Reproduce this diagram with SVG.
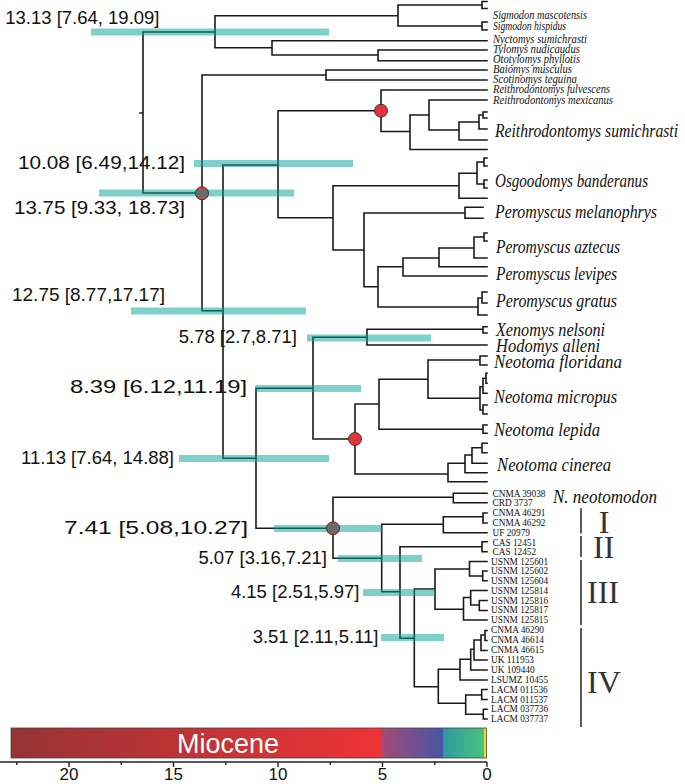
<svg xmlns="http://www.w3.org/2000/svg" width="685" height="784" viewBox="0 0 685 784">
<style>
.tree{fill:none;stroke:#1a1a1a;stroke-width:1.6;stroke-linecap:square}
.bar{fill:#00a195;fill-opacity:0.5}
.age{font-family:"Liberation Sans",Arial,sans-serif;font-size:18.5px;fill:#111;text-anchor:end}
.sp{font-family:"Liberation Serif","Times New Roman",serif;font-style:italic;font-size:11.5px;fill:#111}
.big{font-family:"Liberation Serif","Times New Roman",serif;font-style:italic;font-size:19px;fill:#111}
.spec{font-family:"Liberation Serif","Times New Roman",serif;font-size:9.3px;fill:#111}
.rom{font-family:"Liberation Serif","Times New Roman",serif;font-size:32px;fill:#333;text-anchor:middle}
.red{fill:#e0363a;stroke:#3a3a3a;stroke-width:1}
.tick{font-family:"Liberation Sans",Arial,sans-serif;font-size:17px;fill:#111;text-anchor:middle}
</style>
<defs>
<clipPath id="cc"><circle cx="0" cy="0" r="6.5"/></clipPath>
<linearGradient id="gMio" x1="0" x2="1" y1="0" y2="0"><stop offset="0" stop-color="#963334"/><stop offset="1" stop-color="#ee3338"/></linearGradient>
<linearGradient id="gPli" x1="0" x2="1" y1="0" y2="0"><stop offset="0" stop-color="#a44a74"/><stop offset="1" stop-color="#4556a6"/></linearGradient>
<linearGradient id="gPle" x1="0" x2="1" y1="0" y2="0"><stop offset="0" stop-color="#2e999e"/><stop offset="1" stop-color="#4ac47e"/></linearGradient>
</defs>
<rect width="685" height="784" fill="#fff"/>

<g id="connectors" class="tree">
<path d="M140,113H143 M143,32V193 M143,32H215 M143,193H202
M215,15.7V47.7 M215,15.7H398 M215,47.7H272
M398,5V26 M398,5H482 M482,1.5V8.5 M482,1.5H487 M482,8.5H487 M398,26H482 M482,22V30 M482,22H487 M482,30H487
M272,40.7V55 M272,40.7H487 M272,55H378 M378,50V60.7 M378,50H487 M378,60.7H487
M202,75V310.7 M202,75H326 M202,310.7H223 M326,70V80 M326,70H487 M326,80H487
M223,165V458.3 M223,165H278 M223,458.3H256
M278,110.7V217.7 M278,110.7H381 M278,217.7H333
M381,90V131.5 M381,90H487 M381,131.5H410
M410,115V149.5 M410,115H429 M410,149.5H487
M429,100V130 M429,100H487 M429,130H459
M459,122V140 M459,122H479 M459,140H487
M479,115V129 M479,115H483 M483,112V118 M483,112H487 M483,118H487 M479,129H487
M333,185.7V250 M333,185.7H459 M333,250H364
M459,173.3V198.3 M459,173.3H477 M459,198.3H487
M477,162V184 M477,162H484 M484,158V166 M484,158H487 M484,166H487 M477,184H484 M484,180V188 M484,180H487 M484,188H487
M364,213V286.7 M364,213H465 M364,286.7H378
M465,207.3V218.3 M465,207.3H483 M465,218.3H483
M378,266.7V307 M378,266.7H403 M378,307H478
M403,258V276 M403,258H439 M403,276H487
M439,248V266.7 M439,248H474 M439,266.7H487
M474,237V258 M474,237H484 M484,233V241 M484,233H487 M484,241H487 M474,258H487
M478,298V315 M478,298H482 M482,292V303 M482,292H487 M482,303H487 M478,315H487
M256,388.3V528.3 M256,388.3H313 M256,528.3H333
M313,337.3V439 M313,337.3H367 M313,439H355
M367,329.3V345 M367,329.3H483 M483,326.7V333 M483,326.7H487 M483,333H487 M367,345H487
M355,404V474 M355,404H379 M355,474H448
M379,379.3V429.3 M379,379.3H428 M379,429.3H483 M483,425V433.3 M483,425H487 M483,433.3H487
M428,360V398.3 M428,360H480 M480,356V365 M480,356H487 M480,365H487 M428,398.3H480
M480,386.7V410 M480,386.7H483 M483,378.3V393.3 M483,378.3H486 M486,373.3V383.3 M486,373.3H487 M486,383.3H487 M483,393.3H487 M480,410H483 M483,405V414 M483,405H487 M483,414H487
M448,463.3V481.7 M448,463.3H465 M448,481.7H487
M465,455V472.7 M465,455H472 M465,472.7H487
M472,447.7V463.3 M472,447.7H482 M482,443.3V452.7 M482,443.3H487 M482,452.7H487 M472,463.3H487
M333,497.3V558.3 M333,497.3H453.3 M333,558.3H381.7
M453.3,493.3V502.7 M453.3,493.3H487 M453.3,502.7H487
M381.7,524.3V591.7 M381.7,524.3H443.3 M381.7,591.7H400
M443.3,516.7V532.7 M443.3,516.7H483 M483,513V523 M483,513H487 M483,523H487 M443.3,532.7H487
M400,546.7V638.3 M400,546.7H482 M482,541.7V551.7 M482,541.7H487 M482,551.7H487 M400,638.3H414.3
M414.3,589V686.7 M414.3,589H435 M414.3,686.7H438.3
M435,569V609.3 M435,569H469.5 M435,609.3H463.5
M469.5,561.5V576 M469.5,561.5H487 M469.5,576H482.7 M482.7,571V580.7 M482.7,571H487 M482.7,580.7H487
M463.5,597.5V620 M463.5,597.5H470.7 M463.5,620H487
M470.7,590.5V605 M470.7,590.5H487 M470.7,605H479.3 M479.3,600.5V610.5 M479.3,600.5H487 M479.3,610.5H487
M438.3,669.3V703.3 M438.3,669.3H460 M438.3,703.3H465.7
M460,659.3V680 M460,659.3H470.7 M460,680H487
M470.7,649.3V670 M470.7,649.3H474 M470.7,670H487
M474,640V660 M474,640H481 M474,660H487
M481,635V650.5 M481,635H485 M485,630.5V640.5 M485,630.5H487 M485,640.5H487 M481,650.5H487
M465.7,695V714.3 M465.7,695H481.7 M481.7,689.5V699.5 M481.7,689.5H487 M481.7,699.5H487 M465.7,714.3H483.3 M483.3,709.3V719 M483.3,709.3H487 M483.3,719H487"/>
</g>

<g id="age-13.13"><rect class="bar" x="91" y="28.5" width="238" height="7"/><text class="age" x="159.5" y="23.5">13.13 [7.64, 19.09]</text></g>
<g id="age-10.08"><rect class="bar" x="194" y="160" width="159" height="7"/><text class="age" x="185" y="169" textLength="167" lengthAdjust="spacingAndGlyphs">10.08 [6.49,14.12]</text></g>
<g id="age-13.75"><rect class="bar" x="99" y="189.5" width="195" height="7"/><text class="age" x="185" y="214" textLength="171" lengthAdjust="spacingAndGlyphs">13.75 [9.33, 18.73]</text></g>
<g id="age-12.75"><rect class="bar" x="131" y="307.5" width="175" height="7"/><text class="age" x="165" y="301" textLength="153" lengthAdjust="spacingAndGlyphs">12.75 [8.77,17.17]</text></g>
<g id="age-5.78"><rect class="bar" x="307" y="334.5" width="124" height="7"/><text class="age" x="297" y="343">5.78 [2.7,8.71]</text></g>
<g id="age-8.39"><rect class="bar" x="255" y="385" width="106" height="7"/><text class="age" x="247" y="393" textLength="177" lengthAdjust="spacingAndGlyphs">8.39 [6.12,11.19]</text></g>
<g id="age-11.13"><rect class="bar" x="179" y="455" width="150" height="7"/><text class="age" x="174" y="463.5">11.13 [7.64, 14.88]</text></g>
<g id="age-7.41"><rect class="bar" x="274" y="525" width="108" height="7"/><text class="age" x="248" y="533.5" textLength="184" lengthAdjust="spacingAndGlyphs">7.41 [5.08,10.27]</text></g>
<g id="age-5.07"><rect class="bar" x="338" y="555" width="84" height="7"/><text class="age" x="327" y="563.5">5.07 [3.16,7.21]</text></g>
<g id="age-4.15"><rect class="bar" x="363" y="589" width="72" height="7"/><text class="age" x="359.5" y="598">4.15 [2.51,5.97]</text></g>
<g id="age-3.51"><rect class="bar" x="381" y="634" width="63" height="7"/><text class="age" x="378.5" y="642.5">3.51 [2.11,5.11]</text></g>

<g id="node-red-1"><circle class="red" cx="381" cy="110.7" r="6.5"/></g>
<g id="node-red-2"><circle class="red" cx="355" cy="439" r="6.5"/></g>
<g id="node-gray-1" transform="translate(202,193.3)"><circle r="6.5" fill="#e0363a"/><rect x="-7" y="-4.3" width="14" height="8.6" fill="#6b6b6b" clip-path="url(#cc)"/><circle r="6.5" fill="none" stroke="#3a3a3a" stroke-width="1"/></g>
<g id="node-gray-2" transform="translate(333,528.3)"><circle r="6.5" fill="#e0363a"/><rect x="-7" y="-4.3" width="14" height="8.6" fill="#6b6b6b" clip-path="url(#cc)"/><circle r="6.5" fill="none" stroke="#3a3a3a" stroke-width="1"/></g>

<g id="taxa-small">
<text class="sp" x="493" y="18.5" textLength="94" lengthAdjust="spacingAndGlyphs">Sigmodon mascotensis</text>
<text class="sp" x="493" y="29.5" textLength="73" lengthAdjust="spacingAndGlyphs">Sigmodon hispidus</text>
<text class="sp" x="493" y="42.5" textLength="94" lengthAdjust="spacingAndGlyphs">Nyctomys sumichrasti</text>
<text class="sp" x="493" y="52.5" textLength="87" lengthAdjust="spacingAndGlyphs">Tylomys nudicaudus</text>
<text class="sp" x="493" y="63" textLength="87" lengthAdjust="spacingAndGlyphs">Ototylomys phyllotis</text>
<text class="sp" x="493" y="72.5" textLength="79" lengthAdjust="spacingAndGlyphs">Baiomys musculus</text>
<text class="sp" x="493" y="82.5" textLength="84" lengthAdjust="spacingAndGlyphs">Scotinomys teguina</text>
<text class="sp" x="493" y="93" textLength="117" lengthAdjust="spacingAndGlyphs">Reithrodontomys fulvescens</text>
<text class="sp" x="493" y="104" textLength="120" lengthAdjust="spacingAndGlyphs">Reithrodontomys mexicanus</text>
</g>
<g id="taxa-large">
<text class="big" transform="translate(495,136.5) scale(0.8,1)" textLength="228.8" lengthAdjust="spacingAndGlyphs">Reithrodontomys sumichrasti</text>
<text class="big" transform="translate(495,186.5) scale(0.8,1)" textLength="191.3" lengthAdjust="spacingAndGlyphs">Osgoodomys banderanus</text>
<text class="big" transform="translate(495,218) scale(0.8,1)" textLength="202.5" lengthAdjust="spacingAndGlyphs">Peromyscus melanophrys</text>
<text class="big" transform="translate(496,253) scale(0.8,1)" textLength="155" lengthAdjust="spacingAndGlyphs">Peromyscus aztecus</text>
<text class="big" transform="translate(496,280) scale(0.8,1)" textLength="151.3" lengthAdjust="spacingAndGlyphs">Peromyscus levipes</text>
<text class="big" transform="translate(496,307) scale(0.8,1)" textLength="151.3" lengthAdjust="spacingAndGlyphs">Peromyscus gratus</text>
<text class="big" transform="translate(496,336) scale(0.8,1)" textLength="136.3" lengthAdjust="spacingAndGlyphs">Xenomys nelsoni</text>
<text class="big" transform="translate(496,351.5) scale(0.8,1)" textLength="130" lengthAdjust="spacingAndGlyphs">Hodomys alleni</text>
<text class="big" transform="translate(494,367.5) scale(0.8,1)" textLength="160" lengthAdjust="spacingAndGlyphs">Neotoma floridana</text>
<text class="big" transform="translate(494,402.5) scale(0.8,1)" textLength="153.8" lengthAdjust="spacingAndGlyphs">Neotoma micropus</text>
<text class="big" transform="translate(494,436) scale(0.8,1)" textLength="132.5" lengthAdjust="spacingAndGlyphs">Neotoma lepida</text>
<text class="big" transform="translate(497,470.5) scale(0.8,1)" textLength="142.5" lengthAdjust="spacingAndGlyphs">Neotoma cinerea</text>
<text class="big" transform="translate(553,502.5) scale(0.8,1)" textLength="130" lengthAdjust="spacingAndGlyphs">N. neotomodon</text>
</g>
<g id="specimens">
<text class="spec" x="492.5" y="496.5">CNMA 39038</text>
<text class="spec" x="492.5" y="506">CRD 3737</text>
<text class="spec" x="492.5" y="516">CNMA 46291</text>
<text class="spec" x="492.5" y="526.3">CNMA 46292</text>
<text class="spec" x="492.5" y="535.7">UF 20979</text>
<text class="spec" x="492.5" y="545.7">CAS 12451</text>
<text class="spec" x="492.5" y="555.3">CAS 12452</text>
<text class="spec" x="491" y="564.7">USNM 125601</text>
<text class="spec" x="491" y="574">USNM 125602</text>
<text class="spec" x="491" y="583.7">USNM 125604</text>
<text class="spec" x="491" y="593.7">USNM 125814</text>
<text class="spec" x="491" y="603.7">USNM 125816</text>
<text class="spec" x="491" y="613">USNM 125817</text>
<text class="spec" x="491" y="623">USNM 125815</text>
<text class="spec" x="491" y="633">CNMA 46290</text>
<text class="spec" x="491" y="643">CNMA 46614</text>
<text class="spec" x="491" y="653">CNMA 46615</text>
<text class="spec" x="491" y="663">UK 111953</text>
<text class="spec" x="491" y="673">UK 109440</text>
<text class="spec" x="491" y="683">LSUMZ 10455</text>
<text class="spec" x="491" y="693">LACM 011536</text>
<text class="spec" x="491" y="703">LACM 011537</text>
<text class="spec" x="491" y="712.3">LACM 037736</text>
<text class="spec" x="491" y="722">LACM 037737</text>
</g>

<g id="clades">
<path d="M581,508.3V533.5 M581,536V557 M581,560V625 M581,628V727" fill="none" stroke="#333" stroke-width="1.6"/>
<text class="rom" x="604" y="533.3">I</text>
<text class="rom" x="603.7" y="557.7">II</text>
<text class="rom" x="603" y="603.3">III</text>
<text class="rom" x="604" y="693.3">IV</text>
</g>

<g id="timescale">
<rect x="11" y="728" width="370" height="30" fill="url(#gMio)"/>
<rect x="381" y="728" width="62" height="30" fill="url(#gPli)"/>
<rect x="443" y="728" width="41" height="30" fill="url(#gPle)"/>
<rect x="484" y="728" width="2.5" height="30" fill="#ecdf22"/>
<rect x="11" y="728" width="475.5" height="30" fill="none" stroke="#444" stroke-width="0.8"/>
<text x="228" y="752.5" font-family="'Liberation Sans',Arial,sans-serif" font-size="27" fill="#fff" text-anchor="middle">Miocene</text>
<path d="M0,762H487 M69,762V767 M173.5,762V767 M278,762V767 M382.5,762V767 M487,762V767 M16.8,762V765 M121.3,762V765 M225.8,762V765 M330.3,762V765 M434.8,762V765" fill="none" stroke="#222" stroke-width="1.4"/>
<text class="tick" x="69" y="780">20</text>
<text class="tick" x="173.5" y="780">15</text>
<text class="tick" x="278" y="780">10</text>
<text class="tick" x="382.5" y="780">5</text>
<text class="tick" x="487" y="780">0</text>
</g>
</svg>
